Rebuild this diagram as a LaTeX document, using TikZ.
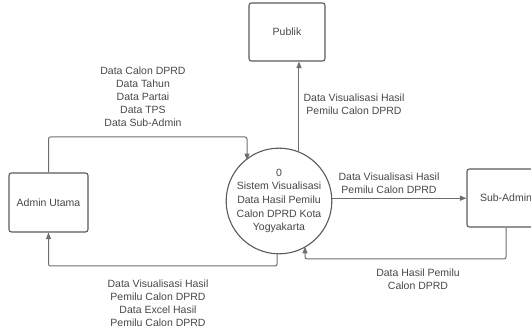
\documentclass[tikz,border=0pt]{standalone}
\usepackage{fontspec}
\setmainfont{Liberation Sans}
\usetikzlibrary{arrows.meta}
\definecolor{linegray}{HTML}{6E6E6E}
\definecolor{boxgray}{HTML}{5A5A5A}
\definecolor{txtgray}{HTML}{474747}
\tikzset{
  entity/.style={draw=boxgray, line width=1.1pt, rounded corners=2.5pt, fill=white,
    inner sep=0pt, text=txtgray, font=\fontsize{10.5}{13}\selectfont},
  proc/.style={draw=boxgray, line width=1.1pt, circle, minimum size=100pt, inner sep=0pt,
    fill=white, text=txtgray, align=center, font=\fontsize{10.5}{13.6}\selectfont},
  flow/.style={draw=linegray, line width=1pt, rounded corners=2pt,
    -{Triangle[length=6.5pt,width=5pt]}},
  lbl/.style={text=txtgray, align=center, inner sep=0pt, font=\fontsize{10.5}{13}\selectfont}
}
\begin{document}
\begin{tikzpicture}[x=1pt,y=1pt]
\useasboundingbox (0,0) rectangle (531,-331);
\node[entity, minimum width=76pt, minimum height=58pt] (publik) at (287,-32) {Publik};
\node[entity, minimum width=79pt, minimum height=59pt] (admin) at (48.5,-202.5) {Admin Utama};
\node[entity, minimum width=78pt, minimum height=58pt] (subadmin) at (506,-198) {Sub-Admin};
\node[proc] (sys) at (279,-201) {0\\Sistem Visualisasi\\Data Hasil Pemilu\\Calon DPRD Kota\\Yogyakarta};

\coordinate (t1) at (247,-137);
\coordinate (b1) at (305,-259);
\coordinate (b2) at (0,-266);

\draw[flow] (admin.north) |- (t1) -- (t1 |- sys.130);
\draw[flow] (sys.68) -- (sys.68 |- publik.south);
\draw[flow] (sys.3) -- (sys.3 -| subadmin.west);
\draw[flow] (subadmin.south) |- (b1) -- (b1 |- sys.-59);
\draw[flow] (sys.-92) -- (sys.-92 |- b2) -| (admin.south);

\node[lbl] (l1) at (143,-97) {Data Calon DPRD\\Data Tahun\\Data Partai\\Data TPS\\Data Sub-Admin};
\node[lbl] (l2) at (354,-104.5) {Data Visualisasi Hasil\\Pemilu Calon DPRD};
\node[lbl] (l3) at (389,-183.5) {Data Visualisasi Hasil\\Pemilu Calon DPRD};
\node[lbl] (l4) at (418,-279) {Data Hasil Pemilu\\Calon DPRD};
\node[lbl] (l5) at (158,-303.5) {Data Visualisasi Hasil\\Pemilu Calon DPRD\\Data Excel Hasil\\Pemilu Calon DPRD};
\end{tikzpicture}
\end{document}
